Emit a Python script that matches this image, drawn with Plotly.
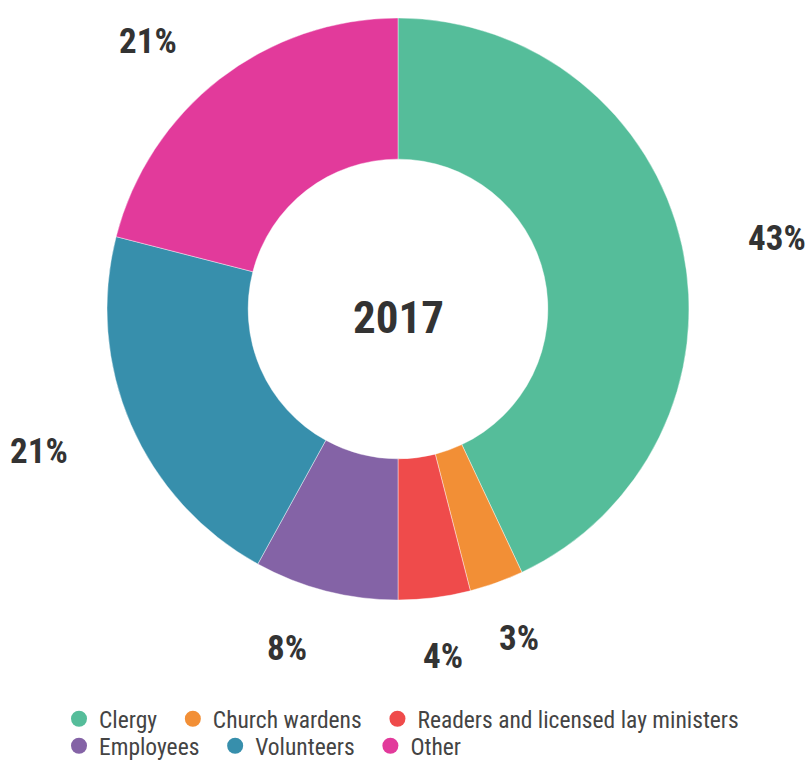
import math
import plotly.graph_objects as go

categories = ["Clergy", "Church wardens", "Readers and licensed lay ministers",
              "Employees", "Volunteers", "Other"]
values = [43, 3, 4, 8, 21, 21]
colors = ["#55BD9A", "#F28F36", "#EF4B4B", "#8463A6", "#378FAC", "#E23A9B"]
center_label = "2017"

W, H = 805, 760
FONT = "Roboto Condensed, Liberation Sans Narrow, Roboto, sans-serif"
TXT = "#333333"

# pie geometry (pixels)
cx, cy, R = 398, 309, 291
dom_x = [(cx - R) / W, (cx + R) / W]
dom_y = [1 - (cy + R) / H, 1 - (cy - R) / H]

fig = go.Figure()
fig.add_trace(go.Pie(
    labels=categories, values=values, hole=0.515, sort=False,
    direction="clockwise", rotation=0,
    marker=dict(colors=colors, line=dict(color="rgba(255,255,255,0.7)", width=0.6)),
    textinfo="none", hoverinfo="label+percent", showlegend=False,
    domain=dict(x=dom_x, y=dom_y),
))

# outside percentage labels positioned from the data's cumulative angles
total = sum(values)
cum = 0
ax_r, ay_r, y_off = 357, 345, 5
for v in values:
    mid = (cum + v / 2) / total * 2 * math.pi
    cum += v
    s, c = math.sin(mid), math.cos(mid)
    px = cx + ax_r * s
    py = cy + y_off - ay_r * c
    xanchor = "left" if s > 0.35 else ("right" if s < -0.2 else "center")
    fig.add_annotation(
        x=px / W, y=1 - py / H, xref="paper", yref="paper",
        text=f"{round(v / total * 100)}%", showarrow=False,
        xanchor=xanchor, yanchor="middle",
        font=dict(family=FONT, size=35, color=TXT, weight="bold"),
    )

fig.add_annotation(
    x=cx / W, y=1 - cy / H, xref="paper", yref="paper", text=center_label,
    showarrow=False, xanchor="center", yanchor="middle", yshift=-8,
    font=dict(family=FONT, size=45, color=TXT, weight="bold"),
)

# legend entries with circular markers
NB = "\u00a0\u00a0"
for i, (name, col) in enumerate(zip(categories, colors)):
    fig.add_trace(go.Scatter(
        x=[None], y=[None], mode="markers", name=name + NB,
        marker=dict(symbol="circle", size=17, color=col),
        legend="legend" if i < 3 else "legend2", hoverinfo="skip",
    ))

legend_font = dict(family=FONT, size=23.5, color="#444444")
fig.update_layout(
    width=W, height=H,
    margin=dict(l=0, r=0, t=0, b=0, autoexpand=False),
    paper_bgcolor="white", plot_bgcolor="white",
    xaxis=dict(visible=False), yaxis=dict(visible=False),
    legend=dict(orientation="h", x=59 / W, y=1 - 697 / H, xanchor="left", yanchor="top",
                font=legend_font, itemsizing="trace", tracegroupgap=0,
                bgcolor="rgba(0,0,0,0)"),
    legend2=dict(orientation="h", x=59 / W, y=1 - 724 / H, xanchor="left", yanchor="top",
                 font=legend_font, itemsizing="trace", tracegroupgap=0,
                 bgcolor="rgba(0,0,0,0)"),
)

fig.write_html("out.html", config={"displayModeBar": False},
               post_script="document.body.style.margin='0';")
